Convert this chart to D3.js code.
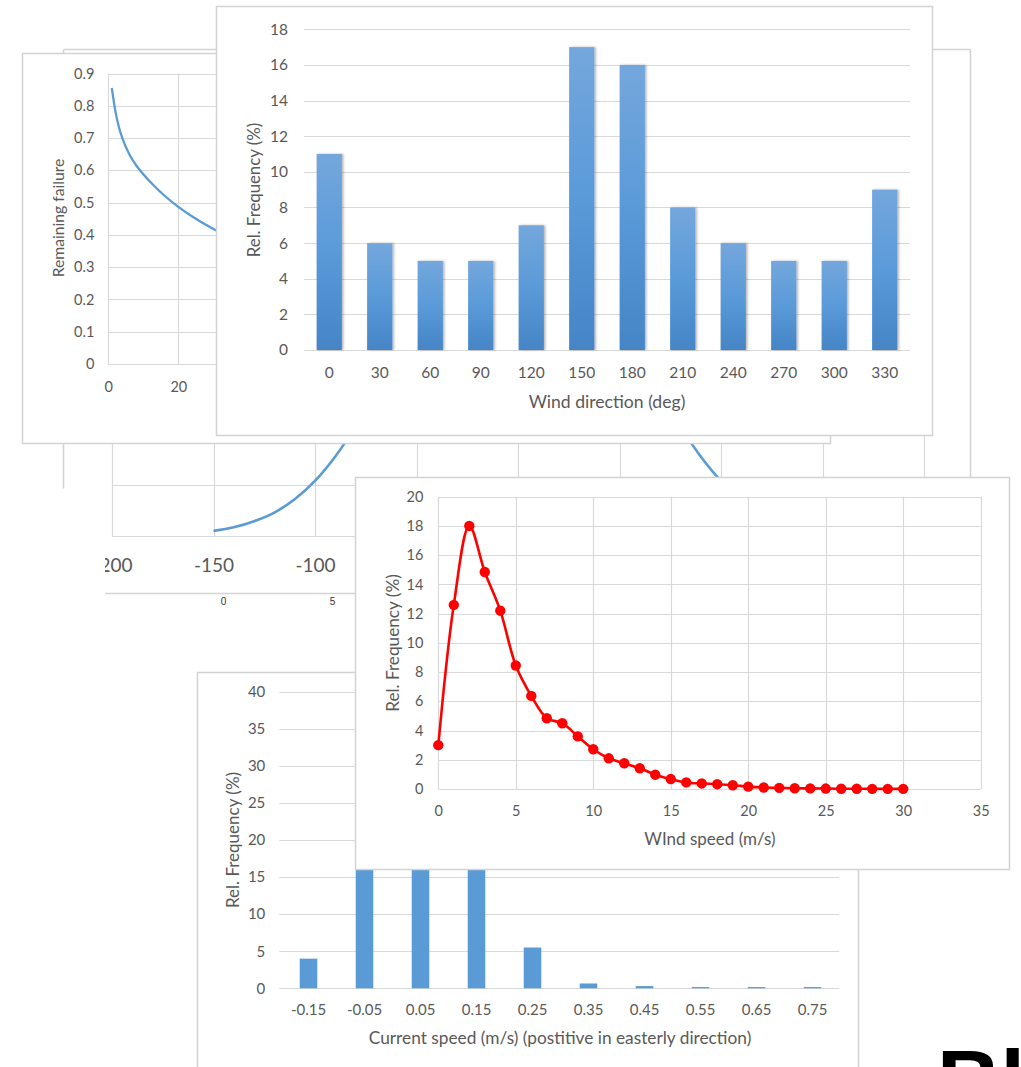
<!DOCTYPE html>
<html><head><meta charset="utf-8">
<script src="https://cdn.jsdelivr.net/npm/d3@7"></script>
<style>
html,body{margin:0;padding:0;background:#fff;}
svg{display:block;font-family:Lato,"Open Sans",sans-serif;}
</style></head><body>
<svg id="sheet" width="1021" height="1067"></svg>
<script>
// ---------- data ----------
// back sheet: bell-shaped profile
const profileAngle = [-150,-140,-130,-120,-110,-100,-90,-80,-70,-60,-50,-40,-30,-20,-10,0,10,20,30,40,50,60,70,80,90,100,110,120,130,140,150];
const profileValue = [0.10,0.17,0.29,0.46,0.72,1.08,1.56,2.14,2.78,3.44,4.06,4.60,5.04,5.36,5.55,5.62,5.55,5.36,5.04,4.60,4.06,3.44,2.78,2.14,1.56,1.08,0.72,0.46,0.29,0.17,0.10];
const profileTicks = [-200,-150,-100,-50,0,50,100,150,200];
const profileGrid = [0,1,2,3,4,5,6,7,8,9];
const strayTicks = [0,5];

// remaining failure curve
const failureTime = [1,2,3,4,6,8,10,13,16,20,25,31,40,50,60,80,100,130,160,200];
const failureValue = [0.855,0.785,0.735,0.700,0.650,0.615,0.588,0.553,0.522,0.487,0.450,0.413,0.368,0.328,0.296,0.250,0.218,0.185,0.162,0.140];
const failureYTicks = [0,0.1,0.2,0.3,0.4,0.5,0.6,0.7,0.8,0.9];
const failureXTicks = [0,20,40,60,80,100,120,140,160,180,200];

// wind direction histogram
const windDirections = ["0","30","60","90","120","150","180","210","240","270","300","330"];
const windDirFreq = [11,6,5,5,7,17,16,8,6,5,5,9];
const windDirTicks = [0,2,4,6,8,10,12,14,16,18];

// wind speed distribution
const windSpeed = [0,1,2,3,4,5,6,7,8,9,10,11,12,13,14,15,16,17,18,19,20,21,22,23,24,25,26,27,28,29,30];
const windSpeedFreq = [3.0,12.6,18.0,14.85,12.2,8.45,6.37,4.84,4.5,3.6,2.72,2.1,1.76,1.42,0.98,0.68,0.45,0.38,0.33,0.26,0.16,0.1,0.08,0.05,0.04,0.03,0.02,0.02,0.01,0.01,0.01];
const windSpeedXTicks = [0,5,10,15,20,25,30,35];
const windSpeedYTicks = [0,2,4,6,8,10,12,14,16,18,20];

// current speed histogram
const currentBins = ["-0.15","-0.05","0.05","0.15","0.25","0.35","0.45","0.55","0.65","0.75"];
const currentFreq = [4,25,37,27,5.5,0.65,0.3,0.17,0.17,0.17];
const currentTicks = [0,5,10,15,20,25,30,35,40];

// ---------- drawing ----------
const svg = d3.select("#sheet");
const TXT = "#595959", GRID = "#d9d9d9", FRAME = "#d3d3d3";
const defs = svg.append("defs");

const grad = defs.append("linearGradient").attr("id","barGrad").attr("x1",0).attr("y1",0).attr("x2",0).attr("y2",1);
grad.append("stop").attr("offset","0%").attr("stop-color","#74a7dc");
grad.append("stop").attr("offset","50%").attr("stop-color","#5a9ad9");
grad.append("stop").attr("offset","100%").attr("stop-color","#4585c6");
const shadow = defs.append("filter").attr("id","barShadow").attr("x","-20%").attr("y","-5%").attr("width","150%").attr("height","115%");
shadow.append("feDropShadow").attr("dx",1.5).attr("dy",0).attr("stdDeviation",1.2).attr("flood-color","#000").attr("flood-opacity",0.3);

function frame(x, y, w, h){
  svg.append("rect").attr("x",x+0.5).attr("y",y+0.5).attr("width",w).attr("height",h)
    .attr("fill","#fff").attr("stroke",FRAME).attr("stroke-width",1.5);
}
function styleTicks(g, size){
  g.select(".domain").remove();
  g.selectAll("text").attr("fill",TXT).style("font-size",size+"px").style("font-family","Lato, sans-serif");
}
function hGrid(g, y, x0, x1, ticks){
  g.append("g").selectAll("line").data(ticks).join("line")
    .attr("x1",x0).attr("x2",x1).attr("y1",d=>Math.round(y(d))+0.5).attr("y2",d=>Math.round(y(d))+0.5)
    .attr("stroke",GRID).attr("stroke-width",1.2);
}
function vGrid(g, x, y0, y1, ticks){
  g.append("g").selectAll("line").data(ticks).join("line")
    .attr("y1",y0).attr("y2",y1).attr("x1",d=>Math.round(x(d))+0.5).attr("x2",d=>Math.round(x(d))+0.5)
    .attr("stroke",GRID).attr("stroke-width",1.2);
}
function yTitle(g, text, x, y, size){
  g.append("text").attr("transform",`translate(${x},${y}) rotate(-90)`).attr("text-anchor","middle")
    .attr("dominant-baseline","central").attr("fill",TXT).style("font-size",size+"px").text(text);
}
function xTitle(g, text, x, y, size){
  g.append("text").attr("x",x).attr("y",y).attr("text-anchor","middle")
    .attr("dominant-baseline","central").attr("fill",TXT).style("font-size",size+"px").text(text);
}

// --- back sheet (partly hidden profile) ---
{
  const shape = [[63,49],[970,49],[970,593],[105,593],[105,488],[63,488]];
  defs.append("clipPath").attr("id","backClip").append("polygon").attr("points",shape.map(p=>p.join(",")).join(" "));
  svg.append("polygon").attr("points",shape.map(p=>p.join(",")).join(" ")).attr("fill","#fff");
  const g = svg.append("g").attr("clip-path","url(#backClip)");
  const x = d3.scaleLinear().domain([-200,200]).range([112,924]);
  const y = d3.scaleLinear().domain([0,9]).range([536,77]);
  hGrid(g, y, 112, 924, profileGrid);
  vGrid(g, x, y(9), y(0), profileTicks);
  g.append("path").datum(profileAngle.map((a,i)=>[a,profileValue[i]]))
    .attr("d", d3.line().x(d=>x(d[0])).y(d=>y(d[1])).curve(d3.curveMonotoneX))
    .attr("fill","none").attr("stroke","#5b9bd5").attr("stroke-width",2.6);
  const ax = g.append("g").attr("transform","translate(0,536)")
    .call(d3.axisBottom(x).tickValues(profileTicks).tickSize(0).tickPadding(23).tickFormat(d=>String(d)));
  styleTicks(ax, 19);
  // labels lying under the front sheet are never seen
  ax.selectAll(".tick").filter(d => x(d) > 340).remove();
  const edges = [[63,49,970,49],[970,49,970,593],[63,49,63,488],[105,593,970,593]];
  svg.append("g").selectAll("line").data(edges).join("line")
    .attr("x1",d=>d[0]+0.5).attr("y1",d=>d[1]+0.5).attr("x2",d=>d[2]+0.5).attr("y2",d=>d[3]+0.5)
    .attr("stroke",FRAME).attr("stroke-width",1.5);
  // axis labels of a sheet further behind
  const sx = d3.scaleLinear().domain([0,5]).range([223,332]);
  const sa = svg.append("g").attr("transform","translate(0,596)")
    .call(d3.axisBottom(sx).tickValues(strayTicks).tickSize(0).tickPadding(2).tickFormat(d=>String(d)));
  sa.select(".domain").remove();
  sa.selectAll("text").attr("fill","#333").style("font-size","10px").style("font-family","Liberation Sans, Arial, sans-serif");
}

// --- remaining failure ---
{
  frame(22,53,808,390);
  const g = svg.append("g");
  const x = d3.scaleLinear().domain([0,200]).range([108.3,808.3]);
  const y = d3.scaleLinear().domain([0,0.9]).range([364,73.5]);
  hGrid(g, y, x(0), x(200), failureYTicks);
  vGrid(g, x, y(0.9), y(0), failureXTicks);
  g.append("path").datum(failureTime.map((t,i)=>[t,failureValue[i]]))
    .attr("d", d3.line().x(d=>x(d[0])).y(d=>y(d[1])).curve(d3.curveMonotoneX))
    .attr("fill","none").attr("stroke","#5b9bd5").attr("stroke-width",2.3);
  const ay = g.append("g").attr("transform",`translate(${x(0)},0)`)
    .call(d3.axisLeft(y).tickValues(failureYTicks).tickSize(0).tickPadding(14).tickFormat(d=>String(d)));
  styleTicks(ay, 14.5);
  const ax = g.append("g").attr("transform",`translate(0,${y(0)})`)
    .call(d3.axisBottom(x).tickValues(failureXTicks).tickSize(0).tickPadding(18).tickFormat(d=>String(d)));
  styleTicks(ax, 14.5);
  ax.selectAll(".tick").filter(d => x(d) > 210).remove();
  yTitle(g, "Remaining failure", 58, 218, 15.7);
}

// --- wind direction histogram ---
{
  frame(216,6,716,429);
  const g = svg.append("g");
  const x = d3.scaleBand().domain(windDirections).range([304,910]).paddingInner(0.5).paddingOuter(0.25);
  const y = d3.scaleLinear().domain([0,18]).range([350,29.3]);
  hGrid(g, y, 304, 910, windDirTicks);
  g.append("g").selectAll("rect").data(windDirections.map((c,i)=>({c,v:windDirFreq[i]}))).join("rect")
    .attr("x",d=>x(d.c)).attr("width",x.bandwidth())
    .attr("y",d=>y(d.v)).attr("height",d=>y(0)-y(d.v))
    .attr("fill","url(#barGrad)").attr("filter","url(#barShadow)");
  const ay = g.append("g").attr("transform","translate(304,0)")
    .call(d3.axisLeft(y).tickValues(windDirTicks).tickSize(0).tickPadding(16));
  styleTicks(ay, 15.5);
  const ax = g.append("g").attr("transform","translate(0,350)")
    .call(d3.axisBottom(x).tickSize(0).tickPadding(17));
  styleTicks(ax, 15.5);
  yTitle(g, "Rel. Frequency (%)", 253, 190, 16.8);
  xTitle(g, "Wind direction (deg)", 607, 401, 17.6);
}

// --- current speed histogram ---
{
  frame(197,672,661,420);
  const g = svg.append("g");
  const x = d3.scaleBand().domain(currentBins).range([280.5,840.5]).paddingInner(1-1/3.19).paddingOuter((1-1/3.19)/2);
  const y = d3.scaleLinear().domain([0,40]).range([988.3,691.7]);
  hGrid(g, y, 279.3, 839.3, currentTicks);
  g.append("g").selectAll("rect").data(currentBins.map((c,i)=>({c,v:currentFreq[i]}))).join("rect")
    .attr("x",d=>x(d.c)).attr("width",x.bandwidth())
    .attr("y",d=>y(d.v)).attr("height",d=>y(0)-y(d.v))
    .attr("fill","#5b9bd5");
  const ay = g.append("g").attr("transform","translate(279.3,0)")
    .call(d3.axisLeft(y).tickValues(currentTicks).tickSize(0).tickPadding(14));
  styleTicks(ay, 15);
  const ax = g.append("g").attr("transform","translate(0,988.3)")
    .call(d3.axisBottom(x).tickSize(0).tickPadding(16));
  styleTicks(ax, 15);
  yTitle(g, "Rel. Frequency (%)", 232, 840, 17);
  xTitle(g, "Current speed (m/s) (postitive in easterly direction)", 560, 1037, 17.3);
}

// --- wind speed distribution ---
{
  frame(355,477,654,392);
  const g = svg.append("g");
  const x = d3.scaleLinear().domain([0,35]).range([438.3,980.7]);
  const y = d3.scaleLinear().domain([0,20]).range([789,496.7]);
  hGrid(g, y, x(0), x(35), windSpeedYTicks);
  vGrid(g, x, y(20), y(0), windSpeedXTicks);
  const pts = windSpeed.map((s,i)=>[s,windSpeedFreq[i]]);
  g.append("path").datum(pts)
    .attr("d", d3.line().x(d=>x(d[0])).y(d=>y(d[1])).curve(d3.curveCatmullRom.alpha(0.5)))
    .attr("fill","none").attr("stroke","#ff0000").attr("stroke-width",2.6);
  g.append("g").selectAll("circle").data(pts).join("circle")
    .attr("cx",d=>x(d[0])).attr("cy",d=>y(d[1])).attr("r",5.2).attr("fill","#ff0000");
  const ay = g.append("g").attr("transform",`translate(${x(0)},0)`)
    .call(d3.axisLeft(y).tickValues(windSpeedYTicks).tickSize(0).tickPadding(15));
  styleTicks(ay, 14.5);
  const ax = g.append("g").attr("transform",`translate(0,${y(0)})`)
    .call(d3.axisBottom(x).tickValues(windSpeedXTicks).tickSize(0).tickPadding(17));
  styleTicks(ax, 14.5);
  yTitle(g, "Rel. Frequency (%)", 392, 643, 17.2);
  xTitle(g, "WInd speed (m/s)", 710, 838, 17);
}

// --- large heading running off the corner ---
svg.append("text").attr("x",937).attr("y",1111)
  .style("font-family","'Liberation Sans', Arial, sans-serif").style("font-weight","bold").style("font-size","88px")
  .attr("fill","#000").text("Bl");
</script>
</body></html>
